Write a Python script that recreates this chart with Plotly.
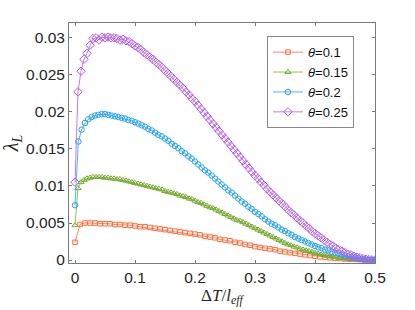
import numpy as np
import plotly.graph_objects as go

# theta = 0.1 (x grid: 0..0.5, 61 points)
x_01 = np.linspace(0, 0.5, 61)
y_01 = [0.0024, 0.0048, 0.0050, 0.0050, 0.0050, 0.0049, 0.0049, 0.0049, 0.0048, 0.0048,
        0.0047, 0.0047, 0.0046, 0.0045, 0.0045, 0.0044, 0.0043, 0.0042, 0.0041, 0.0040,
        0.0039, 0.0038, 0.0037, 0.0036, 0.0035, 0.0034, 0.0032, 0.0031, 0.0030, 0.0028,
        0.0027, 0.0026, 0.0024, 0.0023, 0.0021, 0.0020, 0.0018, 0.0017, 0.0016, 0.0015,
        0.0014, 0.0012, 0.0011, 0.0010, 0.0009, 0.0008, 0.0007, 0.0006, 0.0005, 0.00043,
        0.00036, 0.0003, 0.00025, 0.0002, 0.00015, 0.00011, 0.00008, 0.00005, 0.00003, 0.00001,
        0.0]

# theta = 0.15 (101 points)
x_015 = np.linspace(0, 0.5, 101)
y_015 = [0.0047, 0.0097, 0.0105, 0.0108, 0.0110, 0.0111, 0.0112, 0.0112, 0.0112, 0.0112,
         0.0111, 0.0111, 0.0110, 0.0110, 0.0109, 0.0109, 0.0108, 0.0107, 0.0106, 0.0105,
         0.0104, 0.0103, 0.0102, 0.0101, 0.0100, 0.0099, 0.0098, 0.0097, 0.0096, 0.0095,
         0.0093, 0.0092, 0.0091, 0.0090, 0.0089, 0.0087, 0.0086, 0.0085, 0.0083, 0.0082,
         0.0080, 0.0078, 0.0077, 0.0075, 0.0073, 0.0071, 0.0070, 0.0068, 0.0066, 0.0064,
         0.0062, 0.0060, 0.0058, 0.0056, 0.0054, 0.0053, 0.0051, 0.0049, 0.0047, 0.0045,
         0.0043, 0.0041, 0.0039, 0.0037, 0.0035, 0.0033, 0.0031, 0.0029, 0.0027, 0.0025,
         0.0023, 0.0021, 0.0020, 0.0018, 0.0017, 0.0015, 0.0014, 0.0013, 0.0012, 0.0011,
         0.00095, 0.00085, 0.00075, 0.00066, 0.00058, 0.0005, 0.00043, 0.00036, 0.0003, 0.00025,
         0.0002, 0.00016, 0.00013, 0.0001, 0.00008, 0.00006, 0.00004, 0.00003, 0.00002, 0.00001,
         0.0]

# theta = 0.2 (91 points)
x_02 = np.linspace(0, 0.5, 91)
y_02 = [0.0074, 0.0160, 0.0176, 0.0185, 0.0190, 0.0193, 0.0195, 0.0196, 0.0197, 0.0197,
        0.0196, 0.0195, 0.0194, 0.0193, 0.0192, 0.0191, 0.0189, 0.0188, 0.0186, 0.0184,
        0.0182, 0.0180, 0.0177, 0.0175, 0.0172, 0.0169, 0.0167, 0.0164, 0.0161, 0.0157,
        0.0154, 0.0151, 0.0147, 0.0144, 0.0140, 0.0137, 0.0133, 0.0129, 0.0125, 0.0121,
        0.0118, 0.0114, 0.0110, 0.0106, 0.0102, 0.0098, 0.0094, 0.0091, 0.0087, 0.0083,
        0.0079, 0.0076, 0.0072, 0.0069, 0.0065, 0.0062, 0.0059, 0.0055, 0.0052, 0.0049,
        0.0047, 0.0044, 0.0041, 0.0039, 0.0036, 0.0034, 0.0031, 0.0029, 0.0027, 0.0025,
        0.0023, 0.0021, 0.0019, 0.0017, 0.0016, 0.0014, 0.0013, 0.0011, 0.0010, 0.0009,
        0.0007, 0.0006, 0.0005, 0.0004, 0.0003, 0.00022, 0.00015, 0.0001, 0.00005, 0.00002,
        0.0]

# theta = 0.25 (101 points)
x_025 = np.linspace(0, 0.5, 101)
y_025 = [0.0105, 0.0227, 0.0255, 0.0271, 0.0279, 0.0290, 0.0299, 0.0300, 0.0297, 0.0301,
         0.0300, 0.0301, 0.0300, 0.0300, 0.0299, 0.0297, 0.0298, 0.0296, 0.0295, 0.0292,
         0.0289, 0.0287, 0.0284, 0.0280, 0.0277, 0.0274, 0.0271, 0.0267, 0.0264, 0.0260,
         0.0256, 0.0252, 0.0248, 0.0244, 0.0240, 0.0236, 0.0232, 0.0227, 0.0223, 0.0218,
         0.0214, 0.0209, 0.0204, 0.0199, 0.0194, 0.0189, 0.0184, 0.0179, 0.0174, 0.0169,
         0.0164, 0.0159, 0.0154, 0.0149, 0.0144, 0.0139, 0.0134, 0.0129, 0.0124, 0.0119,
         0.0114, 0.0110, 0.0105, 0.0101, 0.0096, 0.0092, 0.0088, 0.0084, 0.0080, 0.0076,
         0.0072, 0.0068, 0.0064, 0.0061, 0.0057, 0.0053, 0.0050, 0.0046, 0.0043, 0.0039,
         0.0036, 0.0033, 0.0030, 0.0027, 0.0024, 0.0021, 0.0019, 0.0016, 0.0014, 0.0012,
         0.0010, 0.0008, 0.0007, 0.0005, 0.0004, 0.0003, 0.0002, 0.00012, 0.00006, 0.00002,
         0.0]

labels = ["<i>θ</i>=0.1", "<i>θ</i>=0.15", "<i>θ</i>=0.2", "<i>θ</i>=0.25"]
x_ticks = [0, 0.1, 0.2, 0.3, 0.4, 0.5]
y_ticks = [0, 0.005, 0.01, 0.015, 0.02, 0.025, 0.03]
y_ticklabels = ["0", "0.005", "0.01", "0.015", "0.02", "0.025", "0.03"]

series = [
    (x_01, y_01, labels[0], "#FF6B3A", "square-open", 4.5),
    (x_015, y_015, labels[1], "#77AC30", "triangle-up-open", 5.5),
    (x_02, y_02, labels[2], "#22A2F2", "circle-open", 5.5),
    (x_025, y_025, labels[3], "#B45AF2", "diamond-open", 6.5),
]

fig = go.Figure()
for xs, ys, name, col, sym, sz in series:
    fig.add_trace(go.Scatter(
        x=xs, y=ys, name=name, mode="lines+markers",
        line=dict(color=col, width=0.8),
        marker=dict(symbol=sym, size=sz, color=col, line=dict(color=col, width=1)),
    ))

axis_common = dict(
    showline=True, linecolor="#7a7a7a", linewidth=1, mirror="ticks",
    ticks="inside", ticklen=3, tickcolor="#7a7a7a", showgrid=False, zeroline=False,
    tickfont=dict(family="Liberation Sans, Arial", size=15.5, color="#262626"),
)

fig.update_layout(
    width=415, height=310,
    margin=dict(l=69, r=40, t=23, b=47),
    paper_bgcolor="white", plot_bgcolor="white",
    showlegend=True,
    legend=dict(
        x=0.647, y=0.945, xanchor="left", yanchor="top",
        bgcolor="white", bordercolor="#8a8a8a", borderwidth=1,
        font=dict(family="Liberation Sans, Arial", size=13, color="#111111"),
        tracegroupgap=0, itemwidth=30,
    ),
    xaxis=dict(
        range=[-0.01, 0.5], tickvals=x_ticks, ticktext=[str(t) for t in x_ticks],
        title=dict(text="Δ<i>T</i>/<i>l</i><sub><i>eff</i></sub>", standoff=2,
                   font=dict(family="Liberation Serif, Times New Roman", size=17, color="#262626")),
        automargin=False,
        **axis_common,
    ),
    yaxis=dict(
        range=[-0.0004, 0.032], tickvals=y_ticks, ticktext=y_ticklabels,
        title=dict(text="<i>λ</i><sub><i>L</i></sub>", standoff=6,
                   font=dict(family="Liberation Serif, Times New Roman", size=20, color="#262626")),
        automargin=False,
        **axis_common,
    ),
)

fig.write_html("out.html", config={"displayModeBar": False},
               post_script="document.body.style.margin='0';document.body.style.padding='0';")
